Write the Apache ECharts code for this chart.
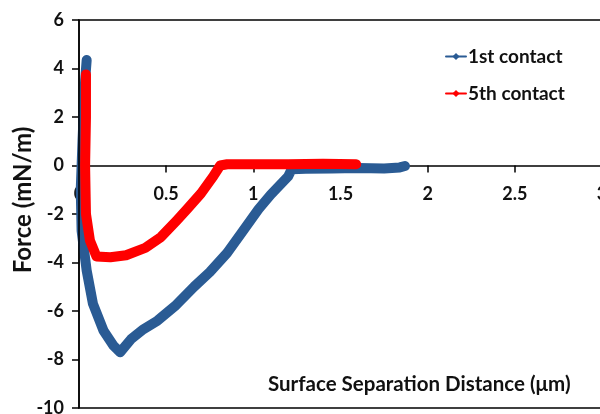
<!DOCTYPE html>
<html>
<head>
<meta charset="utf-8">
<script src="https://cdn.jsdelivr.net/npm/echarts@6/dist/echarts.min.js"></script>
<style>
html,body{margin:0;padding:0;background:#fff;}
#chart{width:600px;height:414px;}
</style>
</head>
<body>
<div id="chart"></div>
<script>
// Data
var seriesNames = ['1st contact', '5th contact'];
var firstX = [1.87, 1.84, 1.75, 1.6, 1.45, 1.3, 1.22, 1.2, 1.1, 1.03, 0.95, 0.85, 0.75, 0.66, 0.55, 0.45, 0.37, 0.3, 0.236, 0.197, 0.14, 0.08, 0.044, 0.015, 0.01, 0.02, 0.035, 0.044];
var firstY = [-0.02, -0.08, -0.12, -0.1, -0.12, -0.13, -0.15, -0.45, -1.2, -1.8, -2.6, -3.6, -4.4, -5.0, -5.8, -6.4, -6.75, -7.15, -7.7, -7.42, -6.8, -5.7, -4.33, -2.7, -1.0, 1.0, 3.5, 4.35];
var fifthX = [1.59, 1.4, 1.2, 1.0, 0.85, 0.81, 0.77, 0.7, 0.62, 0.56, 0.47, 0.38, 0.27, 0.18, 0.1, 0.063, 0.04, 0.035, 0.04, 0.04];
var fifthY = [0.05, 0.07, 0.05, 0.05, 0.05, 0.0, -0.45, -1.15, -1.8, -2.27, -2.95, -3.4, -3.7, -3.78, -3.75, -3.1, -2.0, 0.0, 2.0, 3.75];
var xTicks = {min: 0, max: 3, interval: 0.5};
var yTicks = {min: -10, max: 6, interval: 2};
var xTitle = 'Surface Separation Distance (\u03bcm)';
var yTitle = 'Force (mN/m)';

function pairs(xs, ys) { return xs.map(function (x, i) { return [x, ys[i]]; }); }

var FONT = 'Lato, "Open Sans", sans-serif';
var GRID_TOP = 20, GRID_BOTTOM = 6, H = 414;
var plotH = H - GRID_TOP - GRID_BOTTOM;
// distance from plot bottom to the y = 0 line
var zeroOffset = plotH * (0 - yTicks.min) / (yTicks.max - yTicks.min);

var chart = echarts.init(document.getElementById('chart'), null, {renderer: 'canvas'});
chart.setOption({
  animation: false,
  backgroundColor: '#fff',
  grid: {left: 79, right: -2, top: GRID_TOP, bottom: GRID_BOTTOM, outerBoundsMode: 'none', containLabel: false},
  legend: {
    orient: 'vertical', left: 440, top: 42, itemGap: 18, itemWidth: 20, itemHeight: 9,
    data: seriesNames,
    lineStyle: {width: 2},
    textStyle: {fontFamily: FONT, fontWeight: 'bold', fontSize: 19, color: '#111', padding: [0, 0, 0, -3]}
  },
  xAxis: {
    type: 'value', position: 'bottom', offset: -zeroOffset,
    min: xTicks.min, max: xTicks.max, interval: xTicks.interval,
    axisLine: {onZero: false, lineStyle: {color: '#000', width: 1.5}},
    axisTick: {show: true, length: 7, lineStyle: {color: '#000', width: 1.5}},
    axisLabel: {fontFamily: FONT, fontWeight: 'bold', fontSize: 18, color: '#111', margin: 20, showMaxLabel: true, showMinLabel: true, hideOverlap: false},
    splitLine: {show: false}
  },
  yAxis: {
    type: 'value', min: yTicks.min, max: yTicks.max, interval: yTicks.interval,
    axisLine: {show: true, onZero: false, lineStyle: {color: '#000', width: 1.5}},
    axisTick: {show: true, length: 7, lineStyle: {color: '#000', width: 1.5}},
    axisLabel: {fontFamily: FONT, fontWeight: 'bold', fontSize: 18, color: '#111', margin: 15},
    splitLine: {show: false}
  },
  series: [
    {
      name: seriesNames[0], type: 'line', data: pairs(firstX, firstY),
      symbol: 'diamond', symbolSize: 9, showSymbol: false,
      lineStyle: {color: '#2A5B94', width: 10, join: 'round', cap: 'round'},
      itemStyle: {color: '#2A5B94'}
    },
    {
      name: seriesNames[1], type: 'line', data: pairs(fifthX, fifthY),
      symbol: 'diamond', symbolSize: 9, showSymbol: false,
      lineStyle: {color: '#FF0000', width: 10, join: 'round', cap: 'round'},
      itemStyle: {color: '#FF0000'}
    }
  ]
});

// plot-area border, placed with the library's own scales
var finder = {xAxisIndex: 0, yAxisIndex: 0};
var tl = chart.convertToPixel(finder, [xTicks.min, yTicks.max]);
var br = chart.convertToPixel(finder, [xTicks.max, yTicks.min]);
chart.setOption({
  graphic: [
    {type: 'rect', silent: true, z: 100, shape: {x: tl[0], y: tl[1], width: br[0] - tl[0], height: br[1] - tl[1]}, style: {fill: 'none', stroke: '#000', lineWidth: 1.5}},
    {type: 'text', left: 268, top: 374, style: {text: xTitle, font: 'bold 20.5px ' + FONT, fill: '#111'}},
    {type: 'text', x: 23, y: 200, rotation: Math.PI / 2, style: {text: yTitle, font: 'bold 24px ' + FONT, fill: '#111', align: 'center', verticalAlign: 'middle'}}
  ]
});
</script>
</body>
</html>
